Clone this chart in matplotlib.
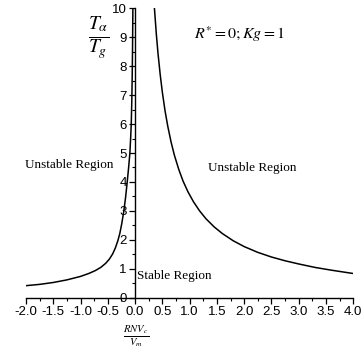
import matplotlib
matplotlib.use("Agg")
import matplotlib.pyplot as plt
import numpy as np
from matplotlib.ticker import MultipleLocator

plt.rcParams['mathtext.fontset'] = 'stix'

# Left branch (x < 0)
left_x = [-2.0, -1.75, -1.5, -1.25, -1.0, -0.85, -0.73, -0.63, -0.54, -0.47, -0.41, -0.36,
          -0.316, -0.28, -0.245, -0.206, -0.175, -0.144, -0.118, -0.095, -0.08, -0.07, -0.06,
          -0.052, -0.046, -0.04]
left_y = [0.42, 0.465, 0.53, 0.62, 0.74, 0.84, 0.94, 1.05, 1.19, 1.34, 1.52, 1.73,
          1.97, 2.22, 2.55, 3.0, 3.45, 4.0, 4.5, 5.0, 5.55, 6.0, 6.8,
          7.7, 8.7, 10.0]
# Right branch (x > 0)
right_x = [0.355, 0.39, 0.42, 0.46, 0.5, 0.55, 0.6, 0.66, 0.72, 0.8, 0.88, 0.97, 1.07, 1.18,
           1.3, 1.45, 1.6, 1.8, 2.0, 2.25, 2.5, 2.75, 3.0, 3.3, 3.6, 4.0]
right_y = [10.0, 9.1, 8.45, 7.72, 7.1, 6.45, 5.92, 5.38, 4.93, 4.44, 4.03, 3.66, 3.32, 3.01,
           2.73, 2.45, 2.22, 1.97, 1.77, 1.57, 1.41, 1.28, 1.17, 1.05, 0.955, 0.84]

fig = plt.figure(figsize=(3.64, 3.55), dpi=100)
ax = fig.add_axes([0.0714, 0.161, 0.899, 0.816])
ax.plot(left_x, left_y, color='black', lw=1.1, solid_joinstyle='round')
ax.plot(right_x, right_y, color='black', lw=1.1, solid_joinstyle='round')
ax.set_xlim(-2.0, 4.0)
ax.set_ylim(0, 10)

ax.spines['left'].set_position(('data', 0))
ax.spines['bottom'].set_position(('data', 0))
ax.spines['right'].set_visible(False)
ax.spines['top'].set_visible(False)
for s in ('left', 'bottom'):
    ax.spines[s].set_linewidth(1.0)

ax.xaxis.set_minor_locator(MultipleLocator(0.25))
ax.yaxis.set_minor_locator(MultipleLocator(0.5))
ax.tick_params(which='major', length=4, width=0.9, direction='out', labelsize=9.5, pad=2)
ax.tick_params(which='minor', length=2.5, width=0.8, direction='out')
xt = np.arange(-2.0, 4.01, 0.5)
ax.set_xticks(xt)
ax.set_xticklabels([f"{v:.1f}" for v in xt], family='Liberation Sans')
yt = np.arange(0, 11, 1)
ax.set_yticks(yt)
ax.set_yticklabels([str(v) for v in yt], family='Liberation Sans')

serif = 'Liberation Serif'
ax.text(-1.21, 4.59, 'Unstable Region', family=serif, fontsize=9.5, ha='center', va='center')
ax.text(2.15, 4.48, 'Unstable Region', family=serif, fontsize=9.5, ha='center', va='center')
ax.text(0.04, 0.76, 'Stable Region', family=serif, fontsize=9.5, ha='left', va='center')
ax.text(1.91, 9.1, r'$R^{*}=0;Kg=1$', fontsize=11.5, ha='center', va='center')

fig.text(0.272, 0.893, r'$\frac{T_{\alpha}}{T_{g}}$', fontsize=20, ha='center', va='center')
fig.text(0.373, 0.054, r'$\frac{RNV_{c}}{V_{m}}$', fontsize=11, ha='center', va='center')

fig.savefig('out.png', dpi=100)
